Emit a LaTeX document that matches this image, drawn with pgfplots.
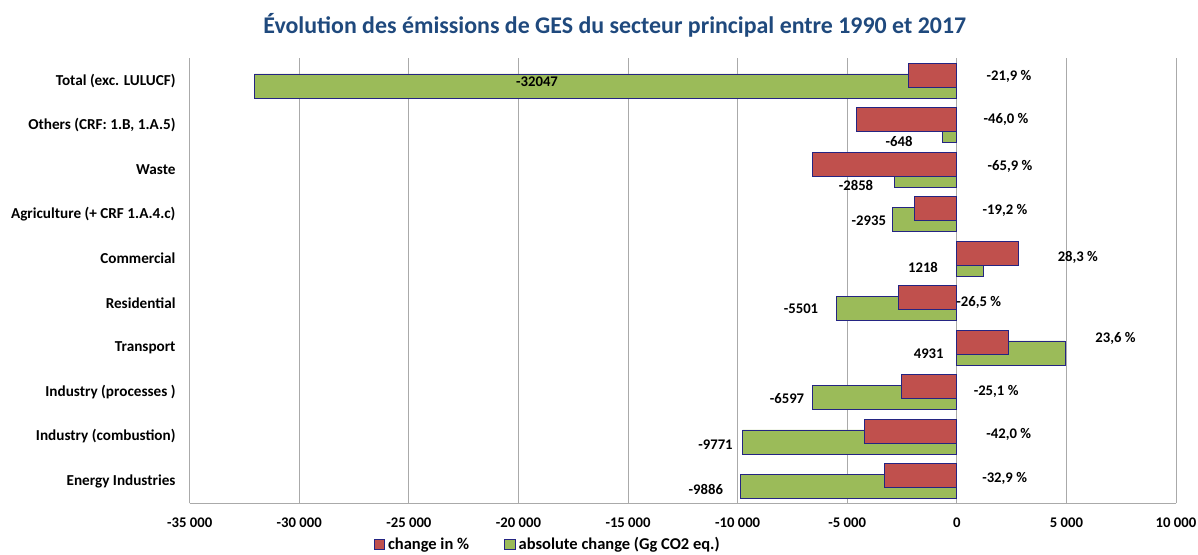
\documentclass[border=0pt]{standalone}
\usepackage{fontspec}
\setmainfont{Carlito}
\usepackage{pgfplots}
\pgfplotsset{compat=1.18}
\definecolor{barred}{RGB}{192,80,77}
\definecolor{bargreen}{RGB}{155,187,89}
\definecolor{barline}{RGB}{36,36,130}
\definecolor{gridgray}{RGB}{170,170,170}
\definecolor{titleblue}{RGB}{31,73,125}
\newcommand{\lab}{\fontsize{14.7}{17}\selectfont\bfseries}
\begin{document}
\begin{tikzpicture}
\useasboundingbox (-189.7pt,-50.7pt) rectangle (1008.3pt,503.3pt);
\begin{axis}[
  at={(0pt,0pt)}, anchor=south west,
  scale only axis, width=986.3pt, height=445pt,
  xmin=-35000, xmax=10000, ymin=-0.5, ymax=9.5,
  axis x line*=bottom, axis y line*=left,
  axis line style={draw=gridgray, line width=1pt},
  xmajorgrids, grid style={draw=gridgray, line width=0.9pt},
  major tick length=0pt,
  xtick={-35000,-30000,...,10000},
  xticklabels={-35 000,-30 000,-25 000,-20 000,-15 000,-10 000,-5 000,0,5 000,10 000},
  xticklabel style={font=\lab, anchor=base, inner sep=0pt, yshift=-24.3pt},
  ytick={0,...,9},
  yticklabels={Energy Industries,Industry (combustion),Industry (processes ),Transport,Residential,Commercial,Agriculture (+ CRF 1.A.4.c),Waste,{Others (CRF: 1.B, 1.A.5)},Total (exc. LULUCF)},
  yticklabel style={font=\fontsize{15.2}{17}\selectfont\bfseries, anchor=east, inner sep=0pt, xshift=-14pt},
  legend columns=2,
  legend style={draw=none, fill=none, at={(0.1862,-0.0925)}, anchor=west, inner sep=0pt,
    font=\fontsize{16.5}{19}\selectfont\bfseries,
    nodes={inner xsep=3pt, inner ysep=1pt},
    /tikz/every even column/.append style={column sep=32pt}},
]
% absolute change (Gg CO2 eq.)
\addplot[xbar, bar width=24pt, bar shift=-5.4pt, fill=bargreen, draw=barline, line width=0.8pt, forget plot]
  coordinates {(-9886,0) (-9771,1) (-6597,2) (4931,3) (-5501,4) (1218,5) (-2935,6) (-2858,7) (-648,8) (-32047,9)};
% change in % (scaled x100)
\addplot[xbar, bar width=24pt, bar shift=5.4pt, fill=barred, draw=barline, line width=0.8pt, forget plot]
  coordinates {(-3290,0) (-4200,1) (-2510,2) (2360,3) (-2650,4) (2830,5) (-1920,6) (-6590,7) (-4600,8) (-2190,9)};
\addlegendimage{legend image code/.code={\draw[fill=barred,draw=barline,line width=0.8pt] (0pt,-5.3pt) rectangle (10.7pt,5.3pt);}}
\addlegendentry{change in \%}
\addlegendimage{legend image code/.code={\draw[fill=bargreen,draw=barline,line width=0.8pt] (0pt,-5.3pt) rectangle (10.7pt,5.3pt);}}
\addlegendentry{absolute change (Gg CO2 eq.)}
% labels: change in %
\node[font=\lab] at (axis cs:2382,9.087) {-21,9 \%};
\node[font=\lab] at (axis cs:2245,8.136) {-46,0 \%};
\node[font=\lab] at (axis cs:2427,7.064) {-65,9 \%};
\node[font=\lab] at (axis cs:2199,6.091) {-19,2 \%};
\node[font=\lab] at (axis cs:5521,5.028) {28,3 \%};
\node[font=\lab] at (axis cs:1004,4.008) {-26,5 \%};
\node[font=\lab] at (axis cs:7241,3.208) {23,6 \%};
\node[font=\lab] at (axis cs:1793,2.012) {-25,1 \%};
\node[font=\lab] at (axis cs:2372,1.055) {-42,0 \%};
\node[font=\lab] at (axis cs:2181,0.069) {-32,9 \%};
% labels: absolute change
\node[font=\lab] at (axis cs:-19153,8.967) {-32047};
\node[font=\lab] at (axis cs:-2637,7.626) {-648};
\node[font=\lab] at (axis cs:-4599,6.653) {-2858};
\node[font=\lab] at (axis cs:-4015,5.851) {-2935};
\node[font=\lab] at (axis cs:-1542,4.810) {1218};
\node[font=\lab] at (axis cs:-7108,3.866) {-5501};
\node[font=\lab] at (axis cs:-1282,2.871) {4931};
\node[font=\lab] at (axis cs:-7747,1.844) {-6597};
\node[font=\lab] at (axis cs:-11009,0.816) {-9771};
\node[font=\lab] at (axis cs:-11452,-0.179) {-9886};
\end{axis}
\node[anchor=base, font=\fontsize{23.9}{28}\selectfont\bfseries, text=titleblue] at (425.1pt,470pt)
  {Évolution des émissions de GES du secteur principal entre 1990 et 2017};
\end{tikzpicture}
\end{document}
